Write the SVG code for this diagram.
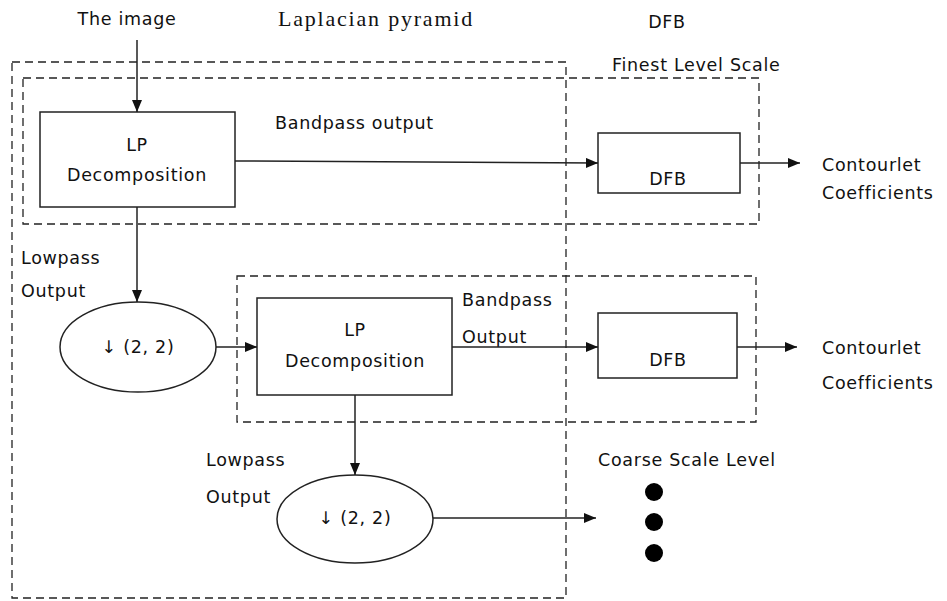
<svg xmlns="http://www.w3.org/2000/svg" width="947" height="601" viewBox="0 0 947 601">
<style>
.t{font-family:"DejaVu Sans","Liberation Sans",sans-serif;font-size:17.5px;fill:#111;letter-spacing:0.7px}
.s{font-family:"Liberation Serif",serif;font-size:22px;fill:#111;letter-spacing:1.8px}
.box{fill:#fff;stroke:#222;stroke-width:1.5}
.dash{fill:none;stroke:#222;stroke-width:1.3;stroke-dasharray:8,5}
.ln{fill:none;stroke:#222;stroke-width:1.5}
</style>
<defs>
<marker id="ah" markerWidth="12" markerHeight="10" refX="12" refY="5" orient="auto" markerUnits="userSpaceOnUse">
<path d="M0,0 L12,5 L0,10 Z" fill="#111"/>
</marker>
</defs>
<rect width="947" height="601" fill="#fff"/>
<g id="labels">
<text class="t" x="127" y="25" text-anchor="middle">The image</text>
<text class="s" x="376" y="26" text-anchor="middle">Laplacian pyramid</text>
<text class="t" x="667" y="28" text-anchor="middle">DFB</text>
<text class="t" x="612" y="71">Finest Level Scale</text>
<text class="t" x="275" y="129">Bandpass output</text>
<text class="t" x="21" y="264">Lowpass</text>
<text class="t" x="21" y="297">Output</text>
<text class="t" x="462" y="306">Bandpass</text>
<text class="t" x="462" y="343">Output</text>
<text class="t" x="206" y="466">Lowpass</text>
<text class="t" x="206" y="503">Output</text>
<text class="t" x="598" y="466">Coarse Scale Level</text>
<text class="t" x="822" y="171">Contourlet</text>
<text class="t" x="822" y="199">Coefficients</text>
<text class="t" x="822" y="354">Contourlet</text>
<text class="t" x="822" y="389">Coefficients</text>
</g>
<g id="frames">
<rect class="dash" x="12" y="62" width="554" height="536"/>
<rect class="dash" x="23" y="78" width="736" height="146"/>
<rect class="dash" x="237" y="276" width="519" height="146"/>
</g>
<g id="lp1">
<rect class="box" x="40" y="112" width="195" height="95"/>
<text class="t" x="137" y="151" text-anchor="middle">LP</text>
<text class="t" x="137" y="181" text-anchor="middle">Decomposition</text>
</g>
<g id="dfb1">
<rect class="box" x="598" y="133" width="142" height="60"/>
<text class="t" x="668" y="185" text-anchor="middle">DFB</text>
</g>
<g id="down1">
<ellipse class="box" cx="138" cy="347" rx="78" ry="45"/>
<text class="t" x="138" y="353" text-anchor="middle">↓ (2, 2)</text>
</g>
<g id="lp2">
<rect class="box" x="257" y="298" width="195" height="97"/>
<text class="t" x="355" y="336" text-anchor="middle">LP</text>
<text class="t" x="355" y="367" text-anchor="middle">Decomposition</text>
</g>
<g id="dfb2">
<rect class="box" x="598" y="313" width="139" height="65"/>
<text class="t" x="668" y="366" text-anchor="middle">DFB</text>
</g>
<g id="down2">
<ellipse class="box" cx="355" cy="519" rx="78" ry="44"/>
<text class="t" x="355" y="524" text-anchor="middle">↓ (2, 2)</text>
</g>
<g id="dots" fill="#000">
<circle cx="654" cy="492" r="9"/>
<circle cx="654" cy="522" r="9"/>
<circle cx="654" cy="553" r="9"/>
</g>
<g id="connectors">
<line class="ln" x1="137" y1="40" x2="137" y2="112" marker-end="url(#ah)"/>
<line class="ln" x1="235" y1="161" x2="598" y2="163" marker-end="url(#ah)"/>
<line class="ln" x1="740" y1="163" x2="800" y2="163" marker-end="url(#ah)"/>
<line class="ln" x1="137" y1="207" x2="137" y2="302" marker-end="url(#ah)"/>
<line class="ln" x1="216" y1="347" x2="257" y2="347" marker-end="url(#ah)"/>
<line class="ln" x1="452" y1="347" x2="598" y2="347" marker-end="url(#ah)"/>
<line class="ln" x1="737" y1="347" x2="797" y2="347" marker-end="url(#ah)"/>
<line class="ln" x1="355" y1="395" x2="355" y2="475" marker-end="url(#ah)"/>
<line class="ln" x1="433" y1="518" x2="596" y2="518" marker-end="url(#ah)"/>
</g>
</svg>
